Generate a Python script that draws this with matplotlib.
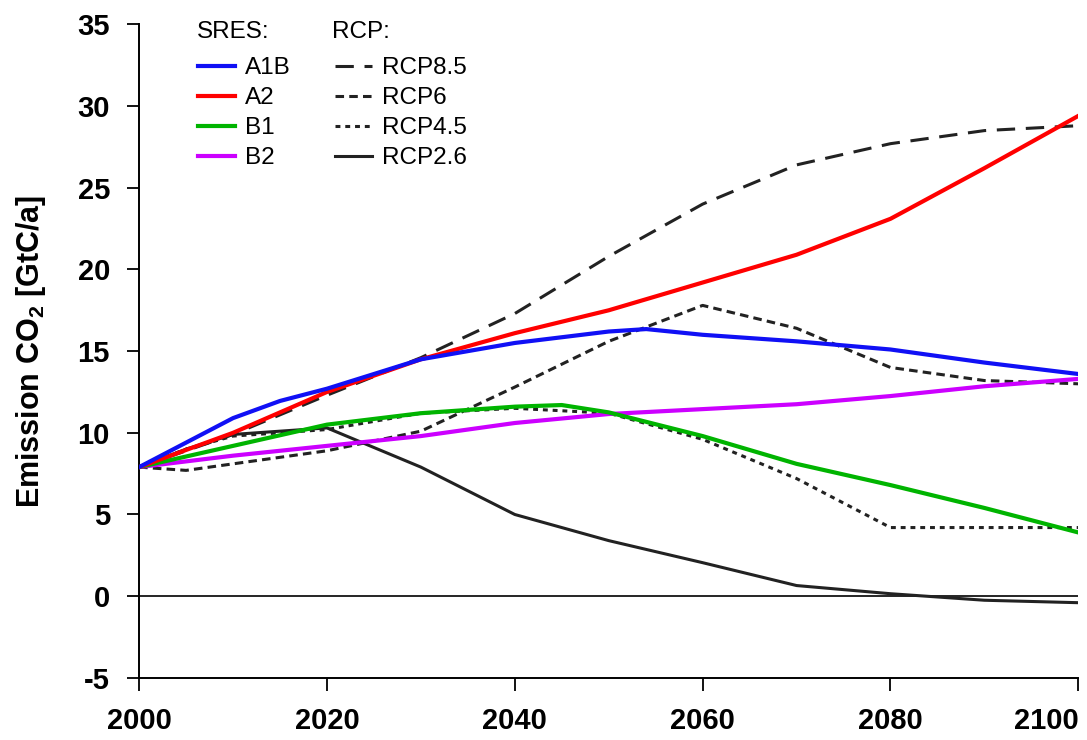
import matplotlib.pyplot as plt
import matplotlib.lines as mlines

plt.rcParams['font.family'] = ['Liberation Sans', 'DejaVu Sans']
plt.rcParams['mathtext.fontset'] = 'custom'
plt.rcParams['mathtext.rm'] = 'Liberation Sans'
plt.rcParams['mathtext.bf'] = 'Liberation Sans:bold'
plt.rcParams['axes.unicode_minus'] = False

# Daten
jahre = [2000, 2010, 2020, 2030, 2040, 2050, 2060, 2070, 2080, 2090, 2100]

a1b_jahre = [2000, 2010, 2015, 2020, 2030, 2040, 2050, 2054, 2060, 2070, 2080, 2090, 2100]
a1b = [7.9, 10.9, 11.95, 12.7, 14.5, 15.5, 16.2, 16.35, 16.0, 15.6, 15.1, 14.3, 13.6]
a2 = [7.9, 10.0, 12.5, 14.5, 16.1, 17.5, 19.2, 20.9, 23.1, 26.2, 29.4]
b1_jahre = [2000, 2010, 2020, 2030, 2040, 2045, 2050, 2060, 2070, 2080, 2090, 2100]
b1 = [7.9, 9.2, 10.5, 11.2, 11.6, 11.7, 11.25, 9.8, 8.1, 6.8, 5.4, 3.9]
b2 = [7.9, 8.6, 9.2, 9.8, 10.6, 11.15, 11.45, 11.75, 12.25, 12.85, 13.3]

rcp_jahre = [2000, 2005, 2010, 2020, 2030, 2040, 2050, 2060, 2070, 2080, 2090, 2100]
rcp85 = [7.9, 8.9, 9.9, 12.3, 14.6, 17.3, 20.8, 24.0, 26.4, 27.7, 28.5, 28.8]
rcp6 = [7.9, 7.7, 8.1, 8.9, 10.1, 12.8, 15.6, 17.8, 16.4, 14.0, 13.2, 13.0]
rcp45 = [7.9, 9.0, 9.8, 10.2, 11.2, 11.5, 11.2, 9.6, 7.2, 4.2, 4.2, 4.2]
rcp26 = [7.9, 9.0, 9.9, 10.3, 7.9, 5.0, 3.4, 2.05, 0.65, 0.15, -0.25, -0.4]

y_ticks = [-5, 0, 5, 10, 15, 20, 25, 30, 35]
x_ticks = [2000, 2020, 2040, 2060, 2080, 2100]

fig = plt.figure(figsize=(10.87, 7.4), dpi=100)
ax = fig.add_axes([0.128, 0.084, 0.864, 0.883])

grau = '#222222'
blau = '#1010f5'
rot = '#ff0000'
gruen = '#00b400'
lila = '#cc00ff'
lw_sres = 3.0
lw_rcp = 2.2
strich85 = (6, 3.5)
strich6 = (2.8, 1.7)
strich45 = (1.6, 1.6)

# Nulllinie
ax.axhline(0, color='black', linewidth=1.2, zorder=1)

ax.plot(rcp_jahre, rcp26, color=grau, linewidth=lw_rcp, zorder=2)
ax.plot(rcp_jahre, rcp45, color=grau, linewidth=lw_rcp, dashes=strich45, zorder=2)
ax.plot(rcp_jahre, rcp6, color=grau, linewidth=lw_rcp, dashes=strich6, zorder=2)
ax.plot(rcp_jahre, rcp85, color=grau, linewidth=lw_rcp, dashes=strich85, zorder=2)

ax.plot(jahre, b2, color=lila, linewidth=lw_sres, zorder=3)
ax.plot(b1_jahre, b1, color=gruen, linewidth=lw_sres, zorder=3)
ax.plot(jahre, a2, color=rot, linewidth=lw_sres, zorder=3)
ax.plot(a1b_jahre, a1b, color=blau, linewidth=lw_sres, zorder=3)

# Achsen
ax.set_xlim(2000, 2100)
ax.set_ylim(-5, 35)
ax.set_xticks(x_ticks)
ax.set_yticks(y_ticks)
ax.spines['top'].set_visible(False)
ax.spines['right'].set_visible(False)
ax.spines['left'].set_linewidth(1.4)
ax.spines['bottom'].set_linewidth(1.4)
ax.tick_params(axis='both', direction='out', length=9, width=1.3, labelsize=21)
ax.tick_params(axis='y', pad=12)
ax.tick_params(axis='x', pad=12)
for lab in ax.get_xticklabels() + ax.get_yticklabels():
    lab.set_fontweight('bold')
# letzte Jahreszahl rechtsbuendig, damit sie ins Bild passt
ax.get_xticklabels()[-1].set_horizontalalignment('right')

ax.set_ylabel(r'Emission CO$_{\mathbf{2}}$ [GtC/a]', fontsize=22, fontweight='bold')
ax.yaxis.set_label_coords(-0.097, 0.5)

# Legenden
sres_handles = [
    mlines.Line2D([], [], color=blau, linewidth=lw_sres, label='A1B'),
    mlines.Line2D([], [], color=rot, linewidth=lw_sres, label='A2'),
    mlines.Line2D([], [], color=gruen, linewidth=lw_sres, label='B1'),
    mlines.Line2D([], [], color=lila, linewidth=lw_sres, label='B2'),
]
rcp_handles = [
    mlines.Line2D([], [], color=grau, linewidth=lw_rcp, dashes=strich85, label='RCP8.5'),
    mlines.Line2D([], [], color=grau, linewidth=lw_rcp, dashes=strich6, label='RCP6'),
    mlines.Line2D([], [], color=grau, linewidth=lw_rcp, dashes=strich45, label='RCP4.5'),
    mlines.Line2D([], [], color=grau, linewidth=lw_rcp, label='RCP2.6'),
]
leg_opts = dict(loc='center left', frameon=False, fontsize=17.5,
                handlelength=1.52, handletextpad=0.41,
                labelspacing=0.33, borderpad=0.2, borderaxespad=0)
leg1 = ax.legend(handles=sres_handles, bbox_to_anchor=(0.058, 0.864), **leg_opts)
ax.add_artist(leg1)
ax.legend(handles=rcp_handles, bbox_to_anchor=(0.203, 0.864), **leg_opts)

# Ueberschriften der Legenden
ax.text(0.0618, 0.988, 'SRES:', transform=ax.transAxes, fontsize=17.5,
        ha='left', va='center')
ax.text(0.2055, 0.988, 'RCP:', transform=ax.transAxes, fontsize=17.5,
        ha='left', va='center')

plt.savefig('out.png', dpi=100)
plt.close()
